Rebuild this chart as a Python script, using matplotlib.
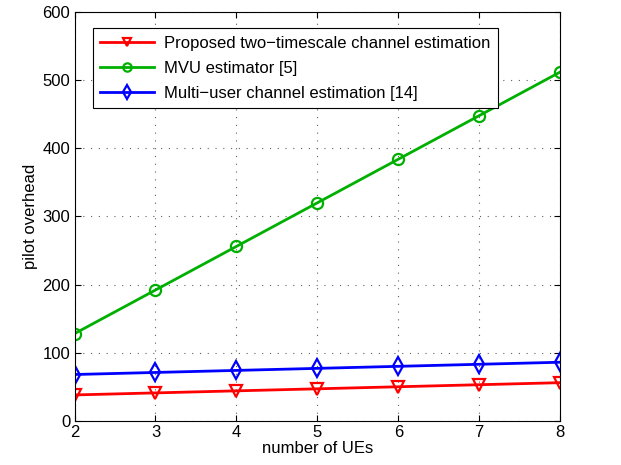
import numpy as np
import matplotlib.pyplot as plt

plt.rcParams["font.family"] = ["Liberation Sans", "DejaVu Sans"]

num_ues = [2, 3, 4, 5, 6, 7, 8]
proposed = [38, 41, 44, 47, 50, 53, 56]
mvu = [128, 192, 256, 320, 384, 448, 512]
multi_user = [68, 71, 74, 77, 80, 83, 86]

labels = [
    "Proposed two\u2212timescale channel estimation",
    "MVU estimator [5]",
    "Multi\u2212user channel estimation [14]",
]

fig = plt.figure(figsize=(6.21, 4.65), dpi=100)
ax = fig.add_axes([0.12, 0.095, 0.782, 0.879])

ax.plot(num_ues, proposed, color="#ff0000", lw=2, marker="v", ms=8.5,
        mfc="none", mew=1.6, label=labels[0])
ax.plot(num_ues, mvu, color="#00b000", lw=2, marker="o", ms=8,
        mfc="none", mew=1.6, label=labels[1])
ax.plot(num_ues, multi_user, color="#0000ff", lw=2, marker="d", ms=9,
        mfc="none", mew=1.6, label=labels[2])

ax.set_xlim(2, 8)
ax.set_ylim(0, 600)
ax.set_xticks(np.arange(2, 9))
ax.set_yticks(np.arange(0, 601, 100))
ax.tick_params(direction="in", top=True, right=True, labelsize=12, length=4, pad=3)
ax.grid(True, linestyle=(0, (1, 6)), color="#606060", linewidth=0.8)
ax.set_xlabel("number of UEs", fontsize=12, labelpad=1)
ax.set_ylabel("pilot overhead", fontsize=12, labelpad=3)

leg = ax.legend(loc="upper left", bbox_to_anchor=(0.038, 0.961), fontsize=12,
                fancybox=False, framealpha=1, edgecolor="black",
                handlelength=3.2, borderpad=0.45, labelspacing=0.6,
                handletextpad=0.6, borderaxespad=0, markerscale=0.75)
leg.get_frame().set_linewidth(0.8)

fig.savefig("out.png", dpi=100)
